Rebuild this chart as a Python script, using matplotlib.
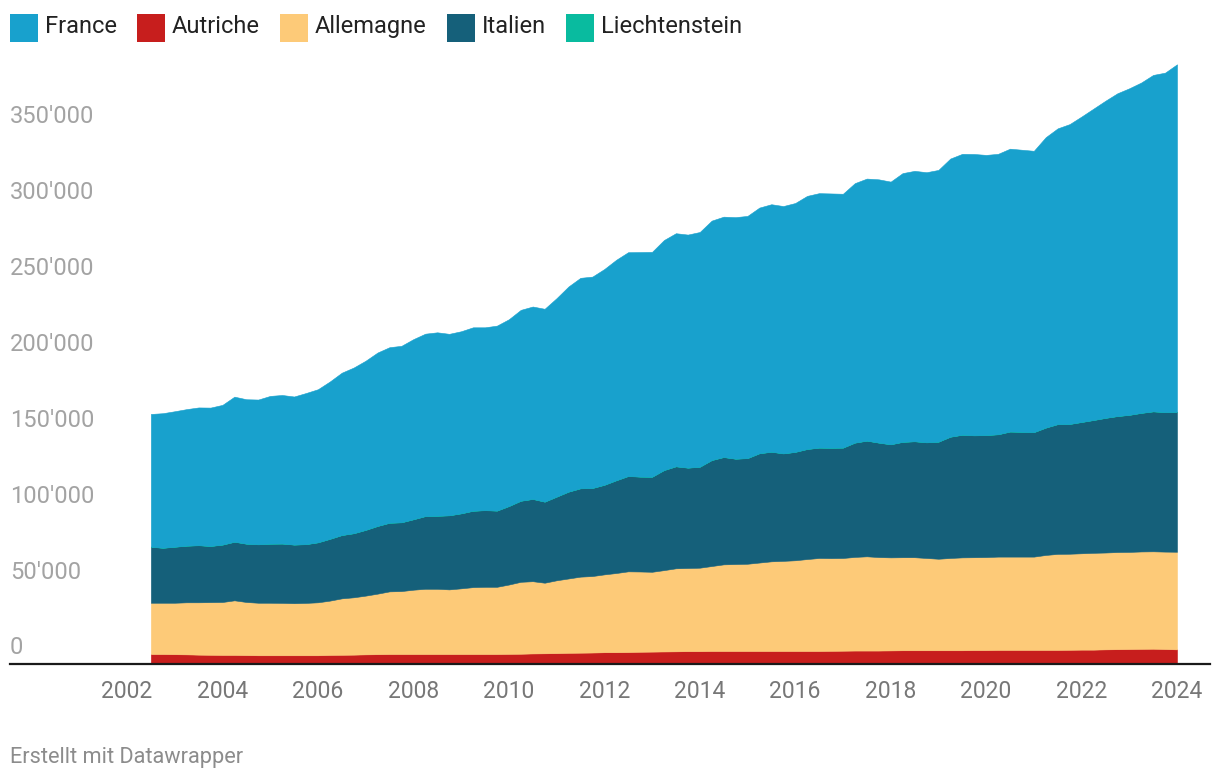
import matplotlib
matplotlib.use("Agg")
import matplotlib.pyplot as plt
import matplotlib.transforms as mtransforms
from matplotlib.patches import Rectangle
from matplotlib.lines import Line2D
import pandas as pd

plt.rcParams['font.family'] = ['Roboto', 'DejaVu Sans']

# ---------------- data (values in thousands of cross-border commuters) ----------------
periods = pd.period_range('2002Q3', '2024Q1', freq='Q')
x_years = [p.year + (p.quarter - 1) / 4 for p in periods]

series_names = ["France", "Autriche", "Allemagne", "Italien", "Liechtenstein"]

france = [87.4, 88.6, 89.2, 89.9, 90.7, 91.1, 92.0, 95.5, 95.1, 95.3,
          97.3, 97.8, 97.5, 99.5, 100.8, 103.6, 106.9, 109.1, 111.4, 114.2,
          115.6, 116.2, 118.6, 120.1, 120.8, 119.5, 119.9, 120.8, 120.4, 121.8,
          123.0, 125.7, 126.7, 127.0, 130.7, 135.1, 138.6, 139.2, 142.1, 145.2,
          147.4, 147.9, 148.1, 151.5, 153.5, 153.5, 154.6, 157.7, 158.3, 159.1,
          159.5, 161.8, 163.0, 162.9, 163.9, 166.7, 167.6, 167.5, 167.2, 170.9,
          172.6, 173.4, 173.0, 177.0, 178.1, 177.9, 179.0, 183.2, 185.0, 185.3,
          184.5, 184.7, 186.3, 185.8, 185.3, 191.3, 194.8, 197.5, 201.2, 205.1,
          208.9, 212.6, 215.1, 217.6, 221.6, 223.6, 228.9]

autriche = [5.9, 5.9, 5.8, 5.7, 5.5, 5.4, 5.3, 5.3, 5.2, 5.1,
            5.1, 5.1, 5.1, 5.1, 5.1, 5.3, 5.4, 5.5, 5.7, 5.8,
            5.9, 5.9, 5.9, 5.9, 5.9, 5.9, 5.9, 5.9, 5.9, 5.9,
            6.0, 6.1, 6.3, 6.4, 6.5, 6.7, 6.8, 6.9, 7.1, 7.1,
            7.2, 7.4, 7.5, 7.6, 7.7, 7.8, 7.8, 7.9, 7.9, 7.9,
            7.9, 7.9, 7.9, 7.9, 7.9, 7.9, 7.9, 8.0, 8.1, 8.2,
            8.2, 8.2, 8.3, 8.4, 8.4, 8.4, 8.4, 8.4, 8.4, 8.5,
            8.5, 8.6, 8.6, 8.6, 8.6, 8.6, 8.6, 8.7, 8.8, 8.8,
            9.0, 9.1, 9.2, 9.3, 9.4, 9.2, 9.0]

allemagne = [33.8, 33.8, 33.9, 34.3, 34.5, 34.7, 34.9, 36.0, 35.0, 34.6,
             34.6, 34.5, 34.3, 34.5, 34.9, 35.8, 37.2, 37.8, 38.7, 39.9,
             41.3, 41.5, 42.4, 43.0, 43.0, 42.6, 43.3, 44.1, 44.3, 44.3,
             45.7, 47.4, 47.6, 46.5, 48.0, 49.0, 50.1, 50.4, 51.3, 52.2,
             53.2, 52.9, 52.6, 53.6, 54.7, 54.8, 55.0, 56.0, 57.1, 57.3,
             57.5, 58.3, 59.1, 59.4, 59.8, 60.6, 61.3, 61.1, 61.1, 61.7,
             62.1, 61.6, 61.3, 61.3, 61.3, 60.8, 60.3, 60.8, 61.2, 61.2,
             61.3, 61.5, 61.5, 61.5, 61.5, 62.6, 63.3, 63.3, 63.5, 63.8,
             63.8, 64.0, 64.0, 64.2, 64.2, 64.2, 64.3]

italien = [36.9, 36.2, 36.9, 37.3, 37.6, 37.0, 37.8, 38.6, 38.4, 38.5,
           38.9, 39.1, 38.6, 38.7, 39.5, 40.7, 41.7, 42.2, 43.3, 44.6,
           45.2, 45.3, 46.4, 47.9, 48.1, 48.8, 49.4, 50.3, 50.5, 50.2,
           51.7, 53.4, 54.2, 53.4, 55.1, 57.2, 58.2, 58.0, 59.0, 61.1,
           62.8, 62.5, 62.6, 65.9, 67.2, 66.1, 66.5, 69.8, 70.7, 69.4,
           69.6, 72.0, 72.2, 70.8, 71.4, 72.5, 72.7, 72.7, 72.7, 75.3,
           76.2, 75.4, 74.5, 76.0, 76.4, 76.2, 77.1, 79.9, 80.8, 80.3,
           80.4, 80.6, 82.4, 82.2, 82.0, 83.9, 85.5, 85.5, 86.5, 87.5,
           88.7, 89.6, 90.3, 91.3, 92.2, 91.9, 92.2]

liechtenstein = [0.1, 0.1, 0.1, 0.1, 0.1, 0.1, 0.1, 0.1, 0.1, 0.1,
                 0.1, 0.1, 0.1, 0.1, 0.1, 0.1, 0.1, 0.1, 0.1, 0.1,
                 0.1, 0.1, 0.1, 0.1, 0.1, 0.1, 0.1, 0.1, 0.1, 0.1,
                 0.1, 0.1, 0.1, 0.1, 0.1, 0.1, 0.1, 0.1, 0.1, 0.1,
                 0.1, 0.1, 0.1, 0.1, 0.1, 0.1, 0.1, 0.1, 0.1, 0.1,
                 0.1, 0.1, 0.1, 0.1, 0.1, 0.1, 0.1, 0.1, 0.1, 0.1,
                 0.1, 0.1, 0.1, 0.1, 0.1, 0.1, 0.1, 0.1, 0.1, 0.1,
                 0.1, 0.1, 0.1, 0.1, 0.1, 0.1, 0.1, 0.1, 0.1, 0.1,
                 0.1, 0.1, 0.1, 0.1, 0.1, 0.1, 0.1]

y_ticks = [0, 50000, 100000, 150000, 200000, 250000, 300000, 350000]
x_ticks = [2002, 2004, 2006, 2008, 2010, 2012, 2014, 2016, 2018, 2020, 2022, 2024]
footer = "Erstellt mit Datawrapper"

colors = {"France": "#18a1cd", "Autriche": "#c71e1d", "Allemagne": "#fdca78",
          "Italien": "#15607a", "Liechtenstein": "#09bb9f"}

# ---------------- figure ----------------
W, H = 1220, 780
fig = plt.figure(figsize=(W / 100, H / 100), dpi=100)

def fx(px):
    return px / W

def fy(py):
    return 1 - py / H

ax_left, ax_right = 10, 1210
ax_bottom, ax_top = 663, 63
ax = fig.add_axes([fx(ax_left), fy(ax_bottom), fx(ax_right - ax_left), (ax_bottom - ax_top) / H])

px_per_year = (1177 - 127) / 22
x0 = 2002 - (127 - ax_left) / px_per_year
x1 = 2024 + (ax_right - 1177) / px_per_year
ax.set_xlim(x0, x1)
units_per_px = 50000 / 75.88
ax.set_ylim(0, (ax_bottom - ax_top) * units_per_px)

stack_order = ["Autriche", "Allemagne", "Italien", "Liechtenstein", "France"]
data = {"France": france, "Autriche": autriche, "Allemagne": allemagne,
        "Italien": italien, "Liechtenstein": liechtenstein}
ys = [[v * 1000 for v in data[n]] for n in stack_order]
polys = ax.stackplot(x_years, *ys, colors=[colors[n] for n in stack_order])
for p, n in zip(polys, stack_order):
    p.set_edgecolor(colors[n])
    p.set_linewidth(0.4)

ax.axis('off')

# y labels
ytrans = mtransforms.offset_copy(ax.get_yaxis_transform(), fig=fig, x=0, y=8.5, units='dots')
for v in y_ticks:
    lab = f"{v:,}".replace(",", "'")
    ax.text(0, v, lab, transform=ytrans, ha='left', va='baseline',
            fontsize=17, color='#a3a3a3')

# baseline
fig.add_artist(Line2D([fx(10), fx(1210)], [fy(664), fy(664)], color='#1a1a1a', lw=1.6))

# x labels
xtrans = mtransforms.blended_transform_factory(ax.transData, fig.transFigure)
for yr in x_ticks:
    ax.text(yr, fy(691), str(yr), transform=xtrans, ha='center', va='center',
            fontsize=16.5, color='#777777')

# footer
fig.text(fx(10), fy(763), footer, ha='left', va='baseline', fontsize=15.7, color='#8c8c8c')

# legend
fig.canvas.draw()
renderer = fig.canvas.get_renderer()
cur = 10
for n in series_names:
    fig.add_artist(Rectangle((fx(cur), fy(42)), fx(28), 28 / H, transform=fig.transFigure,
                             facecolor=colors[n], edgecolor='none'))
    t = fig.text(fx(cur + 35), fy(33), n, ha='left', va='baseline', fontsize=17,
                 color='#222222')
    bb = t.get_window_extent(renderer)
    cur = cur + 35 + bb.width + 20

fig.savefig("out.png", dpi=100)
